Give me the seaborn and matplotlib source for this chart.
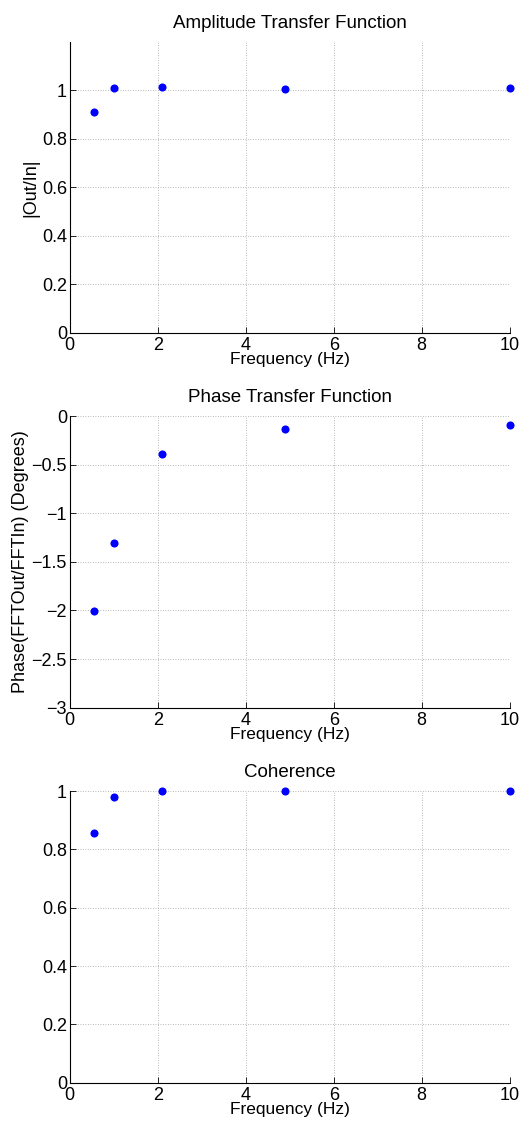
import matplotlib
matplotlib.use("Agg")
import matplotlib.pyplot as plt
import seaborn as sns
import pandas as pd

freq = [0.55, 1.0, 2.1, 4.9, 10.0]
amplitude = [0.91, 1.009, 1.015, 1.007, 1.01]
phase = [-2.01, -1.31, -0.39, -0.137, -0.093]
coherence = [0.858, 0.98, 0.9995, 0.9995, 0.9995]

titles = ["Amplitude Transfer Function", "Phase Transfer Function", "Coherence"]
ylabels = ["|Out/In|", "Phase(FFTOut/FFTIn) (Degrees)", ""]
xlabel = "Frequency (Hz)"
xticks = [0, 2, 4, 6, 8, 10]
yticks_list = [[0, 0.2, 0.4, 0.6, 0.8, 1], [-3, -2.5, -2, -1.5, -1, -0.5, 0], [0, 0.2, 0.4, 0.6, 0.8, 1]]
ytick_labels_list = [["0", "0.2", "0.4", "0.6", "0.8", "1"],
                     ["\u22123", "\u22122.5", "\u22122", "\u22121.5", "\u22121", "\u22120.5", "0"],
                     ["0", "0.2", "0.4", "0.6", "0.8", "1"]]
ylims = [(0, 1.2), (-3, 0), (0, 1)]

sns.set_theme(style="white")
plt.rcParams['font.family'] = ['Liberation Sans', 'DejaVu Sans']
plt.rcParams['text.color'] = 'black'
plt.rcParams['axes.labelcolor'] = 'black'

fig = plt.figure(figsize=(5.31, 11.21), dpi=100)
positions = [
    [0.1313, 0.7032, 0.8286, 0.2593],
    [0.1313, 0.3687, 0.8286, 0.2602],
    [0.1313, 0.0342, 0.8286, 0.2600],
]

series = [amplitude, phase, coherence]
for i in range(3):
    ax = fig.add_axes(positions[i])
    df = pd.DataFrame({"f": freq, "v": series[i]})
    sns.scatterplot(data=df, x="f", y="v", ax=ax, color="#0000ff", s=34,
                    edgecolor="#0000ff", linewidth=0, zorder=3, clip_on=False)
    ax.set_xlim(0, 10)
    ax.set_ylim(*ylims[i])
    ax.set_xticks(xticks)
    ax.set_xticklabels([str(t) for t in xticks])
    ax.set_yticks(yticks_list[i])
    ax.set_yticklabels(ytick_labels_list[i])
    ax.grid(True, linestyle=(0, (1, 2)), color="#a0a0a0", linewidth=0.6)
    ax.set_axisbelow(True)
    for s in ["top", "right"]:
        ax.spines[s].set_visible(False)
    for s in ["left", "bottom"]:
        ax.spines[s].set_color("black")
        ax.spines[s].set_linewidth(0.8)
    ax.tick_params(direction="in", length=4, width=0.6, colors="black",
                   labelsize=13, bottom=True, left=True)
    ax.tick_params(axis="x", pad=3)
    ax.tick_params(axis="y", pad=2)
    ax.set_title(titles[i], fontsize=13.5, pad=10, color="black")
    ax.set_xlabel(xlabel, fontsize=12.5, labelpad=-1)
    ax.set_ylabel(ylabels[i], fontsize=13, labelpad=2)

fig.savefig("out.png", dpi=100, facecolor="white")
